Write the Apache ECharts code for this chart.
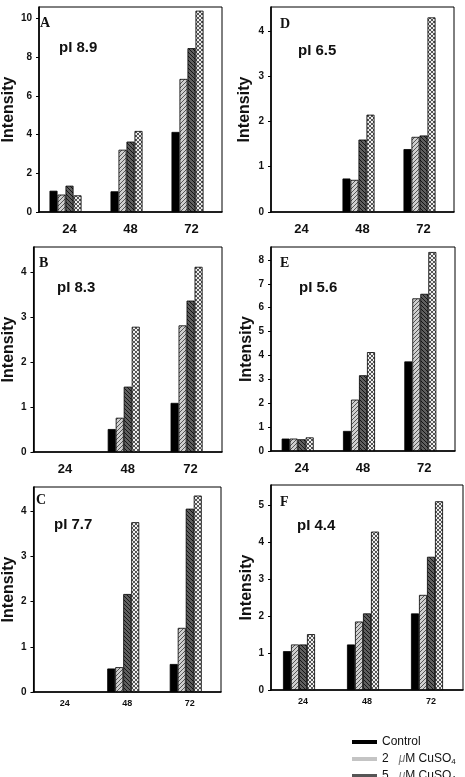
<!DOCTYPE html>
<html><head><meta charset="utf-8">
<script src="https://cdn.jsdelivr.net/npm/echarts@6/dist/echarts.min.js"></script>
<style>html,body{margin:0;padding:0;background:#fff}#c{width:465px;height:777px}</style>
</head><body><div id="c"></div>
<script>
// ---- data ----
const categories = ['24', '48', '72'];
const seriesNames = ['Control', '2 μM CuSO4', '5 μM CuSO4', '10 μM CuSO4'];

const A_control = [1.10, 1.07, 4.14];
const A_cu2 = [0.90, 3.22, 6.88];
const A_cu5 = [1.36, 3.64, 8.47];
const A_cu10 = [0.86, 4.19, 10.41];

const B_control = [null, 0.51, 1.09];
const B_cu2 = [null, 0.76, 2.81];
const B_cu5 = [null, 1.45, 3.36];
const B_cu10 = [null, 2.78, 4.11];

const C_control = [null, 0.52, 0.62];
const C_cu2 = [null, 0.55, 1.42];
const C_cu5 = [null, 2.17, 4.06];
const C_cu10 = [null, 3.76, 4.35];

const D_control = [null, 0.74, 1.39];
const D_cu2 = [null, 0.71, 1.66];
const D_cu5 = [null, 1.60, 1.69];
const D_cu10 = [null, 2.15, 4.30];

const E_control = [0.52, 0.84, 3.75];
const E_cu2 = [0.52, 2.15, 6.39];
const E_cu5 = [0.49, 3.17, 6.58];
const E_cu10 = [0.57, 4.14, 8.33];

const F_control = [1.05, 1.23, 2.07];
const F_cu2 = [1.23, 1.85, 2.57];
const F_cu5 = [1.23, 2.07, 3.60];
const F_cu10 = [1.51, 4.28, 5.10];

const yTicksA = [0, 2, 4, 6, 8, 10];
const yTicksB = [0, 1, 2, 3, 4];
const yTicksC = [0, 1, 2, 3, 4];
const yTicksD = [0, 1, 2, 3, 4];
const yTicksE = [0, 1, 2, 3, 4, 5, 6, 7, 8];
const yTicksF = [0, 1, 2, 3, 4, 5];

const panelLetters = ['A', 'D', 'B', 'E', 'C', 'F'];
const panelPI = ['pI 8.9', 'pI 6.5', 'pI 8.3', 'pI 5.6', 'pI 7.7', 'pI 4.4'];
const yMax = [10.6, 4.53, 4.55, 8.54, 4.54, 5.54];

// ---- patterns ----
function makeTile(bg, fg, dirs) {
  const c = document.createElement('canvas');
  c.width = 4; c.height = 4;
  const g = c.getContext('2d');
  g.fillStyle = bg; g.fillRect(0, 0, 4, 4);
  g.strokeStyle = fg; g.lineWidth = 1;
  dirs.forEach(d => {
    g.beginPath();
    if (d === '/') {
      g.moveTo(-1, 1); g.lineTo(1, -1);
      g.moveTo(0, 4); g.lineTo(4, 0);
      g.moveTo(3, 5); g.lineTo(5, 3);
    } else {
      g.moveTo(0, 0); g.lineTo(4, 4);
      g.moveTo(-1, 3); g.lineTo(1, 5);
      g.moveTo(3, -1); g.lineTo(5, 1);
    }
    g.stroke();
  });
  return c;
}
const fills = [
  '#000000',
  { image: makeTile('#cfcfcf', '#555555', ['/']), repeat: 'repeat' },
  { image: makeTile('#5f5f5f', '#151515', ['\\']), repeat: 'repeat' },
  { image: makeTile('#eeeeee', '#555555', ['/', '\\']), repeat: 'repeat' }
];
const legendColors = ['#000000', '#c4c4c4', '#555555', '#9a9a9a'];

const panelData = [
  [A_control, A_cu2, A_cu5, A_cu10],
  [D_control, D_cu2, D_cu5, D_cu10],
  [B_control, B_cu2, B_cu5, B_cu10],
  [E_control, E_cu2, E_cu5, E_cu10],
  [C_control, C_cu2, C_cu5, C_cu10],
  [F_control, F_cu2, F_cu5, F_cu10]
];
const panelTicks = [yTicksA, yTicksD, yTicksB, yTicksE, yTicksC, yTicksF];

// ---- layout ----
const grids = [
  { left: 33, top: 7, width: 189, height: 205 },
  { left: 271, top: 7, width: 183, height: 205 },
  { left: 33, top: 247, width: 189, height: 205 },
  { left: 271, top: 247, width: 184, height: 204 },
  { left: 33, top: 487, width: 188, height: 205 },
  { left: 271, top: 485, width: 192, height: 205 }
];
const nameGaps = [16, 18, 16, 15, 16, 16];
const letterPos = [[40, 23], [280, 24], [39, 263], [280, 263], [36, 500], [280, 502]];
const piPos = [[59, 48], [298, 51], [57, 288], [299, 288], [54, 525], [297, 526]];
const xFont = [13, 13, 13, 13, 9, 9];
const xMargin = [11, 11, 11, 11, 7, 7];

const option = {
  backgroundColor: '#fff',
  animation: false,
  grid: grids.map(g => Object.assign({ show: true, borderColor: '#000', borderWidth: 1, containLabel: false }, g)),
  xAxis: grids.map((g, i) => ({
    type: 'category', gridIndex: i, data: categories,
    axisLine: { lineStyle: { color: '#000', width: 1.6 } },
    axisTick: { alignWithLabel: true, length: 3, lineStyle: { color: '#000' } },
    axisLabel: { color: '#111', fontWeight: 'bold', fontSize: xFont[i], fontFamily: 'Arial, "Liberation Sans"', margin: xMargin[i] },
    splitLine: { show: false }
  })),
  yAxis: grids.map((g, i) => ({
    type: 'value', gridIndex: i, min: 0, max: yMax[i],
    name: 'Intensity', nameLocation: 'middle', nameGap: nameGaps[i],
    nameTextStyle: { fontSize: 16, fontWeight: 'bold', color: '#111', fontFamily: 'Arial, "Liberation Sans"' },
    axisLine: { show: true, lineStyle: { color: '#000', width: 1.6 } },
    axisTick: { show: true, length: 3, customValues: panelTicks[i], lineStyle: { color: '#000' } },
    axisLabel: { customValues: panelTicks[i], color: '#111', fontWeight: 'bold', fontSize: 10, fontFamily: 'Arial, "Liberation Sans"', margin: 7 },
    splitLine: { show: false }
  })),
  legend: {
    orient: 'vertical', left: 352, top: 735, height: 80, padding: 0,
    itemWidth: 25, itemHeight: 4, itemGap: 3,
    icon: 'rect',
    data: seriesNames.map((n, k) => ({ name: n, itemStyle: { color: legendColors[k], borderWidth: 0 } })),
    textStyle: {
      fontSize: 12, color: '#111', fontFamily: 'Arial, "Liberation Sans"', lineHeight: 14,
      rich: {
        a: { fontSize: 12, color: '#111', fontFamily: 'Arial, "Liberation Sans"', lineHeight: 14 },
        mu: { fontSize: 12, color: '#777', fontStyle: 'italic', fontFamily: 'Arial, "Liberation Sans"', lineHeight: 14 },
        sub: { fontSize: 8, color: '#111', verticalAlign: 'bottom', padding: [4, 0, 0, 0], fontFamily: 'Arial, "Liberation Sans"' }
      }
    },
    formatter: function (name) {
      if (name === 'Control') return '{a|Control}';
      const num = name.split(' ')[0];
      return '{a|' + num + '   }{mu|μ}{a|M CuSO}{sub|4}';
    }
  },
  series: [],
  graphic: []
};

panelData.forEach((arrs, i) => {
  arrs.forEach((vals, k) => {
    option.series.push({
      type: 'bar', name: seriesNames[k], xAxisIndex: i, yAxisIndex: i,
      data: vals, barWidth: 8, barGap: '0%',
      itemStyle: { color: fills[k], borderColor: '#000', borderWidth: 0.8 },
      emphasis: { disabled: true }
    });
  });
  // empty slot after the four bars: the reference's bar groups sit slightly left of the tick
  option.series.push({
    type: 'bar', name: 'spacer', xAxisIndex: i, yAxisIndex: i,
    data: [null, null, null], barWidth: 8, barGap: '0%', silent: true
  });
  option.graphic.push({
    type: 'text', x: letterPos[i][0], y: letterPos[i][1],
    style: { text: panelLetters[i], font: 'bold 14px "Liberation Serif", "Times New Roman", serif', fill: '#111', verticalAlign: 'middle' }
  });
  option.graphic.push({
    type: 'text', x: piPos[i][0], y: piPos[i][1],
    style: { text: panelPI[i], font: 'bold 15px Arial, "Liberation Sans", sans-serif', fill: '#111', verticalAlign: 'middle' }
  });
});

const chart = echarts.init(document.getElementById('c'), null, { renderer: 'canvas' });
chart.setOption(option);
</script>
</body></html>
